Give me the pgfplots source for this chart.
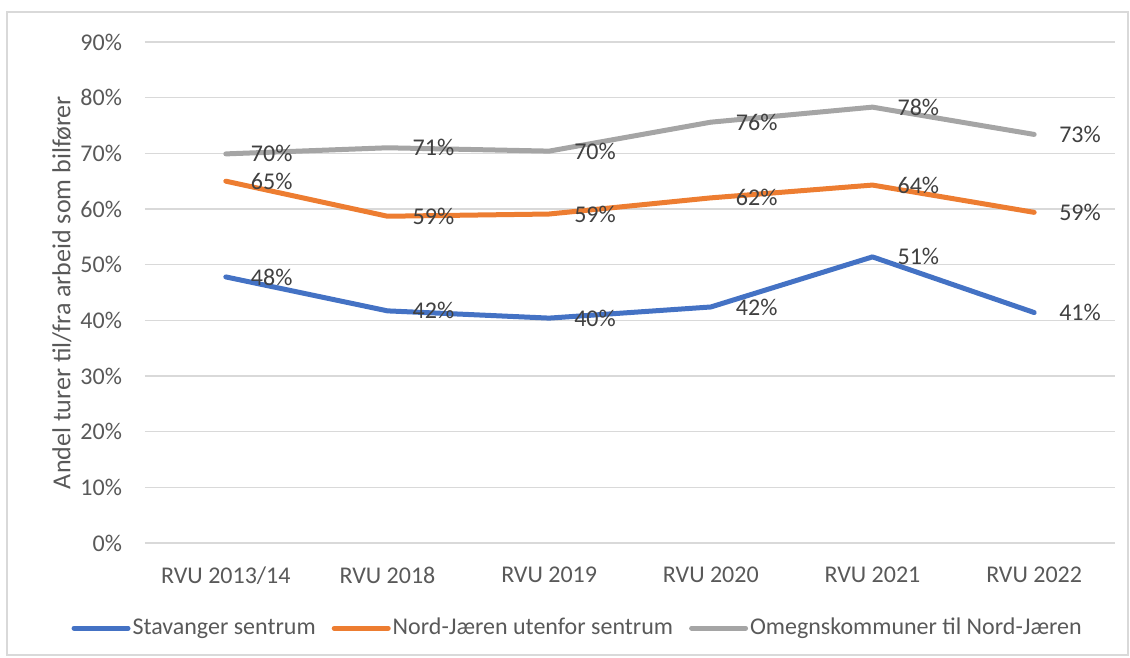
\documentclass[border=0pt]{standalone}
\usepackage{pgfplots}
\pgfplotsset{compat=1.18}
\usepackage{fontspec}
\setmainfont{Carlito}
\definecolor{cblue}{HTML}{4472C4}
\definecolor{corange}{HTML}{ED7D31}
\definecolor{cgray}{HTML}{A5A5A5}
\definecolor{gridc}{HTML}{D9D9D9}
\definecolor{txt}{HTML}{595959}
\definecolor{lbl}{HTML}{404040}
\begin{document}
\begin{tikzpicture}
\useasboundingbox (0,0) rectangle (565pt,329pt);
\draw[gridc, line width=0.6pt] (3.5pt,1.5pt) rectangle (564pt,323pt);
\begin{axis}[
  at={(72.5pt,57.5pt)}, anchor=south west,
  scale only axis, width=485pt, height=250.5pt,
  xmin=-0.5, xmax=5.5, ymin=0, ymax=90,
  xtick={0,...,5},
  xticklabels={RVU 2013/14,RVU 2018,RVU 2019,RVU 2020,RVU 2021,RVU 2022},
  ytick={0,10,...,90},
  yticklabel={\pgfmathprintnumber{\tick}\%},
  /pgf/number format/assume math mode=true,
  major tick length=0pt,
  axis line style={draw=none},
  xmajorgrids=false, ymajorgrids=true, grid style={gridc, line width=0.75pt},
  tick label style={font=\fontsize{12}{14}\selectfont, text=txt},
  xticklabel style={yshift=-8.5pt},
  yticklabel style={xshift=-8pt},
  ylabel={Andel turer til/fra arbeid som bilfører},
  ylabel style={at={(axis description cs:-0.0856,0.5)}, anchor=center, font=\fontsize{13}{15}\selectfont, text=txt},
  nodes near coords={\pgfmathprintnumber[fixed,precision=0]{\pgfplotspointmeta}\%},
  nodes near coords style={anchor=west, xshift=8pt, font=\fontsize{12}{14}\selectfont, text=lbl},
  every axis plot/.append style={line width=2.5pt, line cap=round, line join=round, mark=none},
  legend columns=3,
  legend style={at={(axis description cs:0.446,-0.170)}, anchor=center, draw=none, fill=none,
    font=\fontsize{12}{14}\selectfont, text=txt,
    /tikz/every even column/.append style={column sep=7pt},
    nodes={inner sep=1pt}},
  legend cell align=left,
  legend image code/.code={\draw[#1, line cap=round] (0pt,0pt) -- (27pt,0pt);},
]
\addplot[cblue] coordinates {(0,47.8) (1,41.7) (2,40.4) (3,42.4) (4,51.4) (5,41.4)};
\addlegendentry{Stavanger sentrum}
\addplot[corange] coordinates {(0,65.0) (1,58.7) (2,59.1) (3,62.0) (4,64.3) (5,59.4)};
\addlegendentry{Nord-Jæren utenfor sentrum}
\addplot[cgray] coordinates {(0,69.9) (1,71.0) (2,70.4) (3,75.6) (4,78.3) (5,73.4)};
\addlegendentry{Omegnskommuner til Nord-Jæren}
\end{axis}
\end{tikzpicture}
\end{document}
